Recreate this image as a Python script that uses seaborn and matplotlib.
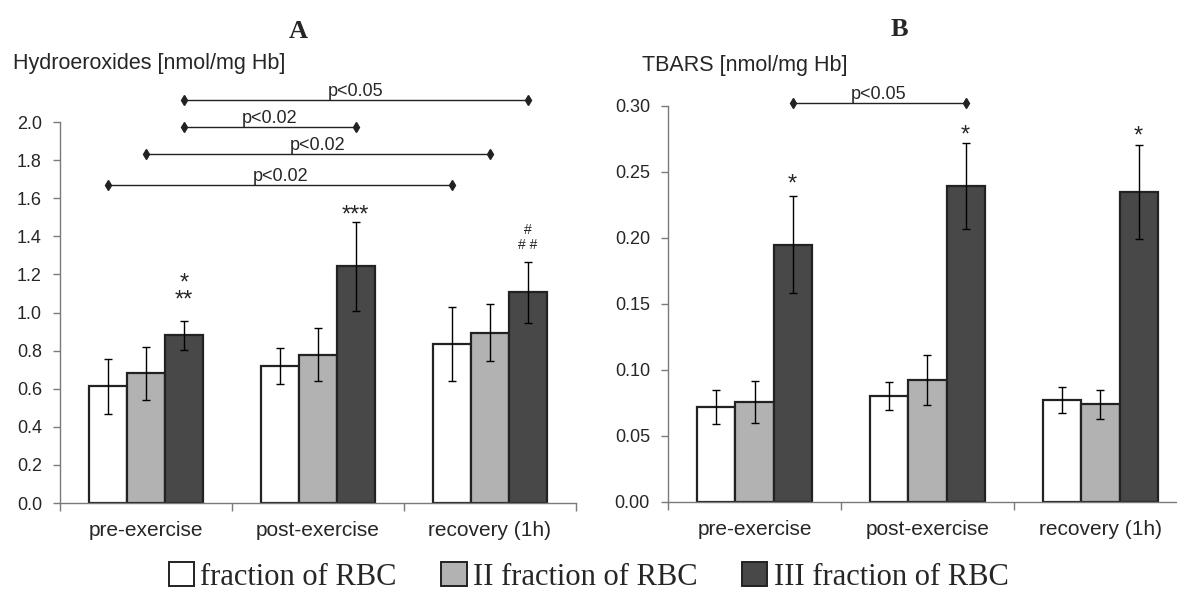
import numpy as np
import pandas as pd
import matplotlib
matplotlib.use("Agg")
import matplotlib.pyplot as plt
from matplotlib.patches import Patch
import seaborn as sns

# ---------------- data ----------------
categories = ["pre-exercise", "post-exercise", "recovery (1h)"]
series = ["fraction of RBC", "II fraction of RBC", "III fraction of RBC"]
colors = ["#ffffff", "#b2b2b2", "#484848"]

hydro_I = [0.612, 0.718, 0.833]
hydro_II = [0.682, 0.779, 0.895]
hydro_III = [0.880, 1.242, 1.105]
hydro_I_err = [0.146, 0.095, 0.195]
hydro_II_err = [0.139, 0.140, 0.148]
hydro_III_err = [0.078, 0.233, 0.160]

tbars_I = [0.0722, 0.0806, 0.0773]
tbars_II = [0.0755, 0.0924, 0.0742]
tbars_III = [0.195, 0.2396, 0.2348]
tbars_I_err = [0.0128, 0.0106, 0.0100]
tbars_II_err = [0.0160, 0.0190, 0.0110]
tbars_III_err = [0.0365, 0.0327, 0.0357]

yticks_A = [0.0, 0.2, 0.4, 0.6, 0.8, 1.0, 1.2, 1.4, 1.6, 1.8, 2.0]
yticks_B = [0.00, 0.05, 0.10, 0.15, 0.20, 0.25, 0.30]

# brackets: (y, (category, series), (category, series), label)
brackets_A = [
    (2.115, (0, 2), (2, 2), "p<0.05"),
    (1.974, (0, 2), (1, 2), "p<0.02"),
    (1.830, (0, 1), (2, 1), "p<0.02"),
    (1.670, (0, 0), (2, 0), "p<0.02"),
]
brackets_B = [
    (0.302, (0, 2), (1, 2), "p<0.05"),
]
# significance marks: (category, series, y of bottom-line glyph centre, text, fontsize, linespacing)
marks_A = [
    (0, 2, 1.102, "*\n**", 17, 0.66),
    (1, 2, 1.546, "***", 17, 1.0),
    (2, 2, 1.358, "#\n# #", 10, 1.1),
]
marks_B = [
    (0, 2, 0.246, "*", 17, 1.0),
    (1, 2, 0.2826, "*", 17, 1.0),
    (2, 2, 0.282, "*", 17, 1.0),
]

# ---------------- style ----------------
sns.set_theme(style="white")
plt.rcParams["font.family"] = ["Liberation Sans", "DejaVu Sans"]

W, H = 1177, 592
fig = plt.figure(figsize=(W / 100, H / 100), dpi=100)
axA = fig.add_axes([60 / W, (H - 503) / H, (576 - 60) / W, (503 - 122) / H])
axB = fig.add_axes([668 / W, (H - 502) / H, (1187 - 668) / W, (502 - 106) / H])

spine_c = "#7a7a7a"


def long_df(vals):
    rows = []
    for s, v in zip(series, vals):
        for c, x in zip(categories, v):
            rows.append({"time": c, "fraction": s, "value": x})
    return pd.DataFrame(rows)


def draw(ax, vals, errs, ylim, yticks, fmt, brackets, marks):
    df = long_df(vals)
    sns.barplot(data=df, x="time", y="value", hue="fraction",
                order=categories, hue_order=series, palette=colors,
                width=0.66, saturation=1, edgecolor="#222222", linewidth=1.6,
                errorbar=None, ax=ax, legend=False)
    centers = {}
    for si, (cont, e) in enumerate(zip(ax.containers, errs)):
        for ci, (bar, ee) in enumerate(zip(cont, e)):
            xc = bar.get_x() + bar.get_width() / 2
            centers[(ci, si)] = xc
            ax.errorbar(xc, bar.get_height(), yerr=ee, fmt="none",
                        ecolor="black", elinewidth=1.0, capsize=2.6,
                        capthick=1.0, zorder=5)
    ax.set_ylim(*ylim)
    ax.set_xlim(-0.5, 2.5)
    ax.set_yticks(yticks)
    ax.set_yticklabels([fmt.format(t) for t in yticks])
    ax.set_xticks(range(len(categories)))
    ax.set_xticklabels(categories)
    ax.set_xticks([-0.5, 0.5, 1.5, 2.5], minor=True)
    ax.set_xlabel("")
    ax.set_ylabel("")
    for s in ["top", "right"]:
        ax.spines[s].set_visible(False)
    for s in ["left", "bottom"]:
        ax.spines[s].set_color(spine_c)
        ax.spines[s].set_linewidth(1.0)
    ax.tick_params(axis="y", which="major", left=True, length=5, width=1,
                   color=spine_c, labelsize=13, pad=8, direction="out")
    ax.tick_params(axis="x", which="major", bottom=False, length=0,
                   labelsize=15, pad=13)
    ax.tick_params(axis="x", which="minor", bottom=True, length=6, width=1,
                   color=spine_c, direction="out")
    ax.grid(False)
    # brackets
    for y, a, b, lab in brackets:
        x0, x1 = centers[a], centers[b]
        ax.plot([x0, x1], [y, y], color="#222222", lw=1.0, marker="d",
                markersize=5, clip_on=False, zorder=6)
        ax.text((x0 + x1) / 2, y, lab, ha="center", va="bottom",
                fontsize=13, clip_on=False)
    # marks
    for ci, si, y, txt, fs, ls in marks:
        off = -0.55 * fs if "*" in txt else -0.36 * fs
        ax.annotate(txt, (centers[(ci, si)], y), xytext=(0, off),
                    textcoords="offset points", ha="center", va="baseline",
                    multialignment="center", linespacing=ls,
                    fontsize=fs, annotation_clip=False)


draw(axA, [hydro_I, hydro_II, hydro_III],
     [hydro_I_err, hydro_II_err, hydro_III_err],
     (0, 2.0), yticks_A, "{:.1f}", brackets_A, marks_A)
draw(axB, [tbars_I, tbars_II, tbars_III],
     [tbars_I_err, tbars_II_err, tbars_III_err],
     (0, 0.30), yticks_B, "{:.2f}", brackets_B, marks_B)

# titles and axis captions
fig.text(298 / W, 1 - 31 / H, "A", ha="center", va="center",
         fontsize=19, fontweight="bold", family=["Liberation Serif"])
fig.text(899 / W, 1 - 30 / H, "B", ha="center", va="center",
         fontsize=19, fontweight="bold", family=["Liberation Serif"])
fig.text(13 / W, 1 - 63 / H, "Hydroeroxides [nmol/mg Hb]", ha="left",
         va="center", fontsize=15.5)
fig.text(642 / W, 1 - 66 / H, "TBARS [nmol/mg Hb]", ha="left",
         va="center", fontsize=15.5)

handles = [Patch(facecolor=c, edgecolor="#222222", linewidth=1.4) for c in colors]
fig.legend(handles, series, loc="center", bbox_to_anchor=(0.5, (H - 577) / H),
           ncol=3, frameon=False, handlelength=0.84, handleheight=0.8,
           handletextpad=0.2, columnspacing=1.45, borderaxespad=0,
           prop={"family": "Liberation Serif", "size": 22})

fig.savefig("out.png", dpi=100)
